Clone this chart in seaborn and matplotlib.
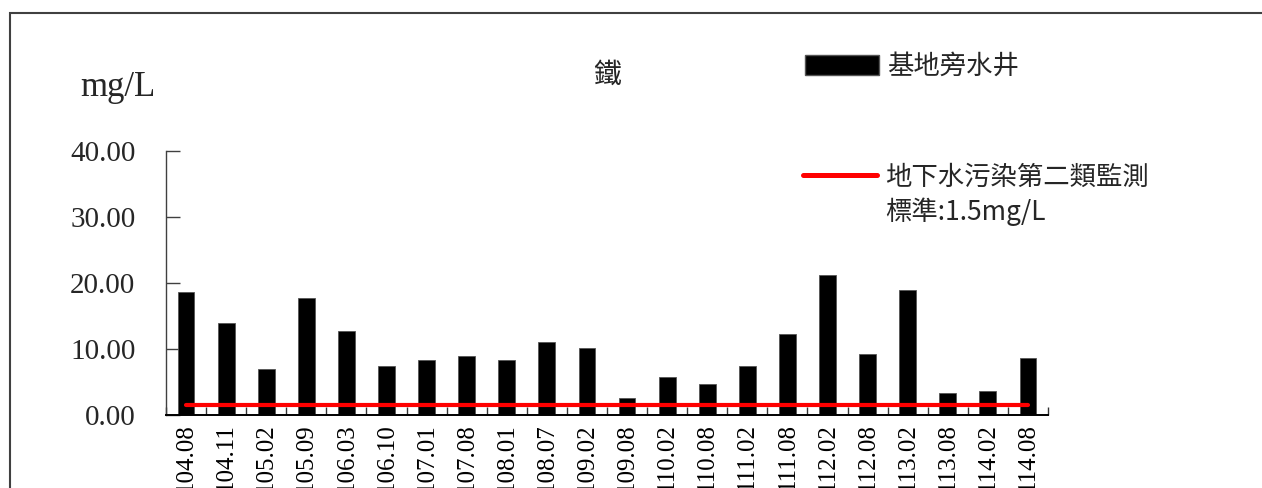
"""
Iron concentration in the well next to the base, with the groundwater
category-2 monitoring standard (1.5 mg/L) drawn as a red line.
"""

import numpy as np
import pandas as pd
import matplotlib

matplotlib.use("Agg")
import matplotlib.pyplot as plt
import seaborn as sns
from matplotlib.patches import Rectangle, Patch
from matplotlib.lines import Line2D

# sampling periods (ROC year.month)
periods = [
    "104.08", "104.11", "105.02", "105.09", "106.03", "106.10", "107.01",
    "107.08", "108.01", "108.07", "109.02", "109.08", "110.02", "110.08",
    "111.02", "111.08", "112.02", "112.08", "113.02", "113.08", "114.02",
    "114.08",
]
# iron, mg/L
iron = [
    18.6, 14.0, 6.9, 17.8, 12.7, 7.4, 8.4,
    8.9, 8.4, 11.0, 10.2, 2.6, 5.7, 4.7,
    7.4, 12.3, 21.2, 9.2, 18.9, 3.4, 3.6,
    8.7,
]
standard = [1.5] * len(periods)

y_ticks = [0, 10, 20, 30, 40]
title = "鐵"
unit_label = "mg/L"
well_label = "基地旁水井"
standard_lines = ["地下水污染第二類監測", "標準:1.5mg/L"]

W, H = 1262, 488

sns.set_theme(style="ticks")
plt.rcParams["font.family"] = ["Liberation Serif", "Noto Sans CJK TC"]
cjk = ["Noto Sans CJK TC", "DejaVu Sans"]

fig = plt.figure(figsize=(W / 100, H / 100), dpi=100)
ax = fig.add_axes([166 / W, 1 - 415 / H, (1048 - 166) / W, (415 - 151) / H])

df = pd.DataFrame({"period": periods, "iron": iron, "standard": standard})

sns.barplot(
    data=df, x="period", y="iron", color="black", saturation=1,
    width=0.42, edgecolor="#555555", linewidth=0.6, ax=ax,
)
sns.lineplot(
    data=df, x="period", y="standard", color="red", linewidth=3.0,
    ax=ax, zorder=5,
)

ax.set_xlim(-0.5, len(periods) - 0.5)
ax.set_ylim(0, 40)
ax.set_yticks(y_ticks)
ax.set_yticklabels([f"{v:.2f}" for v in y_ticks])
ax.set_xlabel("")
ax.set_ylabel("")

# category boundary ticks along the x axis
ax.set_xticks(np.arange(len(periods) + 1) - 0.5, minor=True)
ax.tick_params(axis="x", which="major", length=0, labelsize=18,
               labelrotation=90, pad=6, colors="black")
ax.tick_params(axis="x", which="minor", direction="in", length=6,
               width=1, color="#333333")
ax.tick_params(axis="y", direction="in", length=10, width=1,
               color="#404040", labelsize=21, pad=22)

sns.despine(ax=ax)
ax.spines["bottom"].set_color("black")
ax.spines["bottom"].set_linewidth(1.4)
ax.spines["left"].set_color("#404040")
ax.spines["left"].set_linewidth(1.0)

ax.text(0.5, 1.29, title, transform=ax.transAxes, ha="center",
        va="center", fontsize=20, family=cjk)
fig.text(80 / W, 1 - 88 / H, unit_label, ha="left", va="center",
         fontsize=25)

legend_kw = dict(
    loc="upper left", frameon=False, borderpad=0, borderaxespad=0,
    handlelength=2.8, handleheight=0.8, handletextpad=0.3,
    prop={"family": cjk, "size": 19},
)
fig.legend(
    [Patch(facecolor="black", edgecolor="#555555")], [well_label],
    bbox_to_anchor=(805 / W, 1 - 53 / H), **legend_kw,
)
fig.legend(
    [Line2D([], [], color="red", linewidth=3.6),
     Line2D([], [], linestyle="none")],
    standard_lines, labelspacing=0.25,
    bbox_to_anchor=(803 / W, 1 - 164 / H), **legend_kw,
)

# outer frame of the original chart
fig.add_artist(Rectangle(
    (9.5 / W, -0.2), 1.2, 1.2 - 12.7 / H,
    transform=fig.transFigure, fill=False, edgecolor="#404040",
    linewidth=1.5, clip_on=False,
))

fig.savefig("out.png", dpi=100)
